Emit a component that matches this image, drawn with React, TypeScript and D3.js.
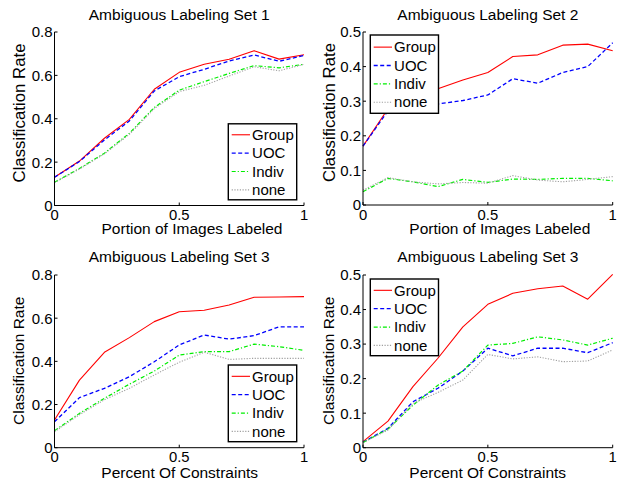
import React from "react";
import * as d3 from "d3";

// ---------- data ----------
const xValues = [0, 0.1, 0.2, 0.3, 0.4, 0.5, 0.6, 0.7, 0.8, 0.9, 1.0];
const seriesNames = ["Group", "UOC", "Indiv", "none"];

const set1Group = [0.13, 0.205, 0.31, 0.397, 0.536, 0.614, 0.651, 0.674, 0.714, 0.675, 0.695];
const set1UOC = [0.13, 0.203, 0.302, 0.39, 0.528, 0.594, 0.628, 0.666, 0.694, 0.665, 0.692];
const set1Indiv = [0.107, 0.171, 0.241, 0.333, 0.452, 0.532, 0.571, 0.609, 0.645, 0.635, 0.651];
const set1None = [0.105, 0.168, 0.238, 0.328, 0.447, 0.525, 0.554, 0.597, 0.64, 0.621, 0.651];

const set2Group = [0.17, 0.278, 0.31, 0.336, 0.361, 0.383, 0.429, 0.434, 0.462, 0.465, 0.446];
const set2UOC = [0.17, 0.272, 0.285, 0.292, 0.302, 0.318, 0.365, 0.352, 0.383, 0.4, 0.469];
const set2Indiv = [0.0385, 0.077, 0.067, 0.053, 0.074, 0.0655, 0.075, 0.074, 0.077, 0.077, 0.07];
const set2None = [0.043, 0.079, 0.067, 0.061, 0.065, 0.063, 0.085, 0.072, 0.067, 0.074, 0.082];

const set3Group = [0.128, 0.313, 0.442, 0.51, 0.584, 0.63, 0.637, 0.661, 0.697, 0.698, 0.7];
const set3UOC = [0.12, 0.232, 0.275, 0.329, 0.398, 0.476, 0.522, 0.503, 0.519, 0.56, 0.56];
const set3Indiv = [0.079, 0.159, 0.229, 0.294, 0.355, 0.429, 0.445, 0.445, 0.48, 0.468, 0.451];
const set3None = [0.074, 0.153, 0.222, 0.275, 0.337, 0.396, 0.442, 0.409, 0.414, 0.414, 0.414];

const set4Group = [0.0174, 0.077, 0.177, 0.259, 0.35, 0.415, 0.447, 0.46, 0.468, 0.43, 0.502];
const set4UOC = [0.016, 0.056, 0.133, 0.172, 0.222, 0.288, 0.266, 0.288, 0.288, 0.275, 0.304];
const set4Indiv = [0.015, 0.054, 0.123, 0.181, 0.222, 0.297, 0.302, 0.321, 0.312, 0.297, 0.317];
const set4None = [0.015, 0.051, 0.128, 0.16, 0.196, 0.27, 0.257, 0.263, 0.249, 0.251, 0.283];

const titles = ["Ambiguous Labeling Set 1", "Ambiguous Labeling Set 2", "Ambiguous Labeling Set 3", "Ambiguous Labeling Set 3"];
const xLabels = ["Portion of Images Labeled", "Portion of Images Labeled", "Percent Of Constraints", "Percent Of Constraints"];
const yLabel = "Classification Rate";
const xTicks = [0, 0.5, 1];
const xTickLabels = ["0", "0.5", "1"];
const yTicksA = [0, 0.2, 0.4, 0.6, 0.8];
const yTickLabelsA = ["0", "0.2", "0.4", "0.6", "0.8"];
const yTicksB = [0, 0.1, 0.2, 0.3, 0.4, 0.5];
const yTickLabelsB = ["0", "0.1", "0.2", "0.3", "0.4", "0.5"];

// ---------- styles ----------
const FONT = "'Liberation Sans', Arial, Helvetica, sans-serif";
const seriesStyles = [
  { color: "#ff0000", dash: "none", width: 1.1 },
  { color: "#0000ff", dash: "4,2.5", width: 1.3 },
  { color: "#00ee00", dash: "4,2,1.2,2", width: 1.2 },
  { color: "#a0a0a0", dash: "1.2,1.5", width: 1.1 },
];

const panels = [
  {
    series: [set1Group, set1UOC, set1Indiv, set1None],
    yMax: 0.8, yTicks: yTicksA, yTickLabels: yTickLabelsA,
    x0: 54.5, x1: 304, yTop: 32, yBot: 205.5,
    titleY: 19.5, xLabelX: 192, xLabelY: 234,
    yLabelX: 25, yLabelY: 113, yLabelSize: 16.8,
    legend: { x: 228.3, y: 123.8, w: 68.4, h: 76 },
  },
  {
    series: [set2Group, set2UOC, set2Indiv, set2None],
    yMax: 0.5, yTicks: yTicksB, yTickLabels: yTickLabelsB,
    x0: 363, x1: 612.7, yTop: 32, yBot: 205,
    titleY: 19.5, xLabelX: 499.8, xLabelY: 234,
    yLabelX: 335, yLabelY: 112.5, yLabelSize: 16.8,
    legend: { x: 370.3, y: 35, w: 68.2, h: 78.3 },
  },
  {
    series: [set3Group, set3UOC, set3Indiv, set3None],
    yMax: 0.8, yTicks: yTicksA, yTickLabels: yTickLabelsA,
    x0: 54.5, x1: 304, yTop: 275, yBot: 447.7,
    titleY: 261.5, xLabelX: 179.7, xLabelY: 477.5,
    yLabelX: 24.2, yLabelY: 360.8, yLabelSize: 15.5,
    legend: { x: 228.3, y: 365, w: 68.4, h: 76.7 },
  },
  {
    series: [set4Group, set4UOC, set4Indiv, set4None],
    yMax: 0.5, yTicks: yTicksB, yTickLabels: yTickLabelsB,
    x0: 363, x1: 612.7, yTop: 275, yBot: 447.7,
    titleY: 261.5, xLabelX: 487.7, xLabelY: 477.5,
    yLabelX: 333.7, yLabelY: 360.8, yLabelSize: 15.5,
    legend: { x: 370.3, y: 279, w: 68.2, h: 76.7 },
  },
];

function Panel({ p, idx }: { p: any; idx: number }) {
  const x = d3.scaleLinear().domain([0, 1]).range([p.x0, p.x1]);
  const y = d3.scaleLinear().domain([0, p.yMax]).range([p.yBot, p.yTop]);
  const line = d3
    .line<number>()
    .x((_, i) => x(xValues[i]))
    .y((d) => y(d));
  const lg = p.legend;
  const step = 18.35;
  const firstY = lg.y + (lg.h - 3 * step) / 2 + 0.5;
  const midX = (p.x0 + p.x1) / 2;
  return (
    <g>
      <text x={midX} y={p.titleY} textAnchor="middle" fontSize={15.5} fontFamily={FONT} fill="#000">
        {titles[idx]}
      </text>
      {p.series.map((s: number[], i: number) => (
        <path
          key={i}
          d={line(s) || ""}
          fill="none"
          stroke={seriesStyles[i].color}
          strokeWidth={seriesStyles[i].width}
          strokeDasharray={seriesStyles[i].dash}
          strokeLinejoin="round"
        />
      ))}
      <line x1={p.x0} x2={p.x1} y1={p.yBot} y2={p.yBot} stroke="#000" strokeWidth={1} />
      <line x1={p.x0} x2={p.x0} y1={p.yBot} y2={p.yTop} stroke="#000" strokeWidth={1} />
      {xTicks.map((t, i) => (
        <g key={"xt" + i}>
          <line x1={x(t)} x2={x(t)} y1={p.yBot} y2={p.yBot - 3} stroke="#000" strokeWidth={1} />
          <text x={x(t)} y={p.yBot + 14.5} textAnchor="middle" fontSize={14.8} fontFamily={FONT} fill="#000">
            {xTickLabels[i]}
          </text>
        </g>
      ))}
      {p.yTicks.map((t: number, i: number) => (
        <g key={"yt" + i}>
          <line x1={p.x0} x2={p.x0 + 3} y1={y(t)} y2={y(t)} stroke="#000" strokeWidth={1} />
          <text x={p.x0 - 2} y={y(t)} dy="0.36em" textAnchor="end" fontSize={15} fontFamily={FONT} fill="#000">
            {p.yTickLabels[i]}
          </text>
        </g>
      ))}
      <text x={p.xLabelX} y={p.xLabelY} textAnchor="middle" fontSize={15.5} fontFamily={FONT} fill="#000">
        {xLabels[idx]}
      </text>
      <text
        transform={`translate(${p.yLabelX},${p.yLabelY}) rotate(-90)`}
        textAnchor="middle"
        fontSize={p.yLabelSize}
        fontFamily={FONT}
        fill="#000"
      >
        {yLabel}
      </text>
      <rect x={lg.x} y={lg.y} width={lg.w} height={lg.h} fill="#fff" stroke="#000" strokeWidth={1.4} />
      {seriesNames.map((n, i) => {
        const ly = firstY + i * step;
        return (
          <g key={"lg" + i}>
            <line
              x1={lg.x + 3.4}
              x2={lg.x + 21.7}
              y1={ly}
              y2={ly}
              stroke={seriesStyles[i].color}
              strokeWidth={seriesStyles[i].width}
              strokeDasharray={seriesStyles[i].dash}
            />
            <text x={lg.x + 23.8} y={ly + 5.2} fontSize={15} fontFamily={FONT} fill="#000">
              {n}
            </text>
          </g>
        );
      })}
    </g>
  );
}

export default function App() {
  return (
    <svg
      width={622}
      height={483}
      viewBox="0 0 622 483"
      style={{ position: "absolute", left: 0, top: 0, display: "block", background: "#fff" }}
    >
      <rect x={0} y={0} width={622} height={483} fill="#fff" />
      {panels.map((p, i) => (
        <Panel key={i} p={p} idx={i} />
      ))}
    </svg>
  );
}
